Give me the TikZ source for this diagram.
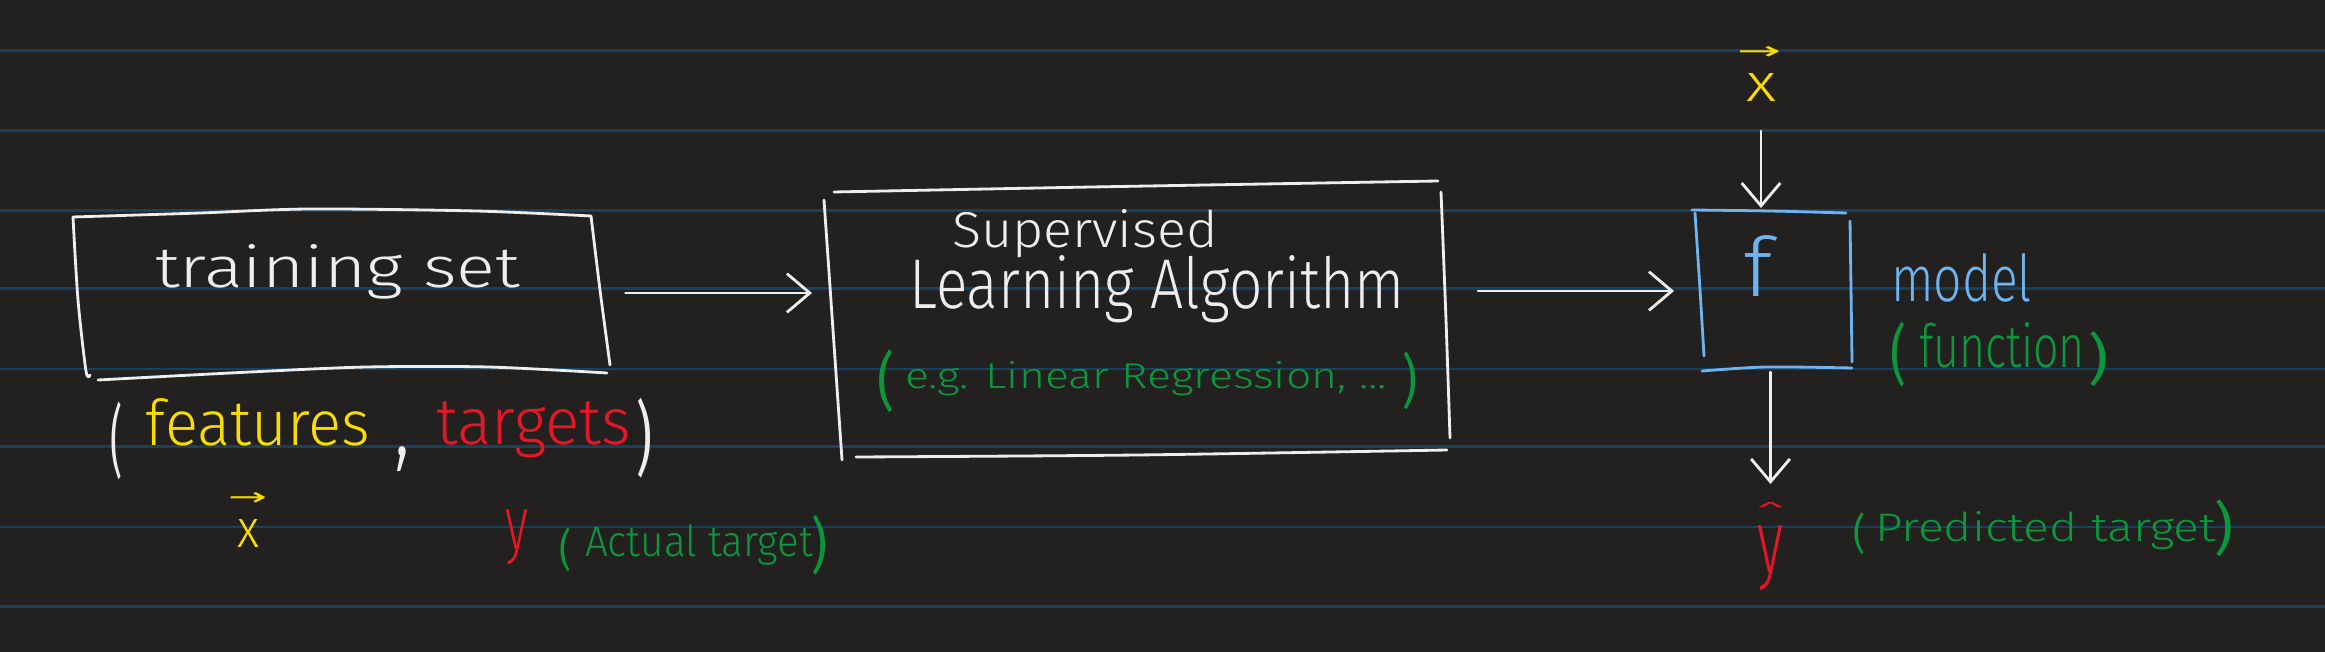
\documentclass[tikz,border=0pt]{standalone}
\usepackage{fontspec}
\setmainfont{Fira Sans Light}
\newfontfamily\regf{Fira Sans}
\newfontfamily\symf{DejaVu Sans}
\usepackage{graphicx}
\usetikzlibrary{arrows.meta}
\definecolor{bg}{RGB}{34,33,32}
\definecolor{rulec}{RGB}{22,66,96}
\definecolor{hwhite}{RGB}{238,238,238}
\definecolor{hyellow}{RGB}{250,220,0}
\definecolor{hred}{RGB}{228,22,40}
\definecolor{hgreen}{RGB}{12,150,62}
\definecolor{hblue}{RGB}{110,180,240}
\newdimen\pxu \pxu=0.01cm
\newcommand\wb[3]{\resizebox{#1\pxu}{#2\pxu}{#3}}
\newcommand\bb[3]{\resizebox*{#1\pxu}{#2\pxu}{#3}}
\newcommand\pp[3]{\resizebox*{#1\pxu}{#2\pxu}{\regf #3}}
\tikzset{
  hw/.style={inner sep=0pt, outer sep=0pt, anchor=base west},
  hb/.style={inner sep=0pt, outer sep=0pt, anchor=north west},
  pen/.style={line width=0.8pt, line cap=round, line join=round},
  rulel/.style={rulec, line width=0.7pt},
  arr/.style={pen, hwhite, -{Straight Barb[length=6.5pt,width=11pt,line width=0.8pt]}},
  boxn/.style={inner sep=0pt, outer sep=0pt, draw=none},
}
\begin{document}
\begin{tikzpicture}[x=0.01cm, y=-0.01cm]
\useasboundingbox (0,0) rectangle (2325,652);
\fill[bg] (0,0) rectangle (2325,652);
\foreach \yy in {50.6,130.4,210.7,288.5,368.8,446.6,526.9,606.7}
  \draw[rulel] (0,\yy) -- (2325,\yy);

% invisible box nodes
\node[boxn, minimum width=537\pxu, minimum height=160\pxu] (train) at (341,293) {};
\node[boxn, minimum width=620\pxu, minimum height=270\pxu] (sla) at (1137,320) {};
\node[boxn, minimum width=156\pxu, minimum height=158\pxu] (fbox) at (1773,291) {};

% training set box strokes
\draw[pen, hwhite] plot[smooth] coordinates {(73,217) (200,213) (310,209) (476,211) (591,216)};
\draw[pen, hwhite] plot[smooth] coordinates {(73,217) (78,300) (86,371) (90,375)};
\draw[pen, hwhite] plot[smooth] coordinates {(591,216) (600,290) (610,365)};
\draw[pen, hwhite] plot[smooth] coordinates {(98,380) (250,372) (367,367) (488,367) (607,373)};

% SLA box strokes
\draw[pen, hwhite] plot[smooth] coordinates {(834,192) (1092,187) (1438,181)};
\draw[pen, hwhite] plot[smooth] coordinates {(1441,192) (1446,320) (1450,438)};
\draw[pen, hwhite] plot[smooth] coordinates {(824,200) (833,330) (842,460)};
\draw[pen, hwhite] plot[smooth] coordinates {(856,457) (1137,455) (1447,450)};

% f box strokes
\draw[pen, hblue] plot[smooth] coordinates {(1692,210) (1770,211) (1846,213)};
\draw[pen, hblue] plot[smooth] coordinates {(1695,213) (1700,290) (1704,356)};
\draw[pen, hblue] plot[smooth] coordinates {(1850,221) (1851,290) (1852,362)};
\draw[pen, hblue] plot[smooth] coordinates {(1702,371) (1766,367) (1852,368)};

% texts
\node[hw, hwhite] (ts) at (155,288) {\wb{365}{43}{training set}};
\node[hb, hwhite] (lp1) at (110,402) {\pp{12}{78}{(}};
\node[hw, hyellow] (feat) at (146,445) {\wb{224}{47}{features}};
\node[hb, hwhite] (comma) at (394,447) {\bb{16}{25}{,}};
\node[hw, hred] (targ) at (436,445) {\wb{195}{43}{targets}};
\node[hb, hwhite] (rp1) at (636,398) {\pp{16}{80}{)}};
\node[hb, hyellow] (xarr1) at (228,492) {\bb{39}{13}{\symf →}};
\node[hb, hyellow] (x1) at (237,519) {\bb{22}{28}{x}};
\node[hb, hred] (y1) at (505,510) {\bb{23}{55}{y}};
\node[hb, hgreen] (lp2) at (559,528) {\pp{12}{44}{(}};
\node[hw, hgreen] (act) at (585,556) {\wb{228}{32}{Actual target}};
\node[hb, hgreen] (rp2) at (811,515) {\pp{16}{60}{)}};
\node[hw, hwhite] (sup) at (952,248) {\wb{266}{38}{Supervised}};
\node[hw, hwhite] (lal) at (909.5,308) {\wb{495}{53}{Learning Algorithm}};
\node[hb, hgreen] (lp3) at (877,350) {\pp{17}{63}{(}};
\node[hw, hgreen] (eg) at (905,388) {\wb{482}{27}{e.g. Linear Regression, ...}};
\node[hb, hgreen] (rp3) at (1402,352) {\pp{15}{58}{)}};
\node[hb, hblue] (fl) at (1743,235) {\bb{29}{61}{f}};
\node[hw, hblue] (model) at (1891,302) {\wb{141}{48}{model}};
\node[hb, hgreen] (lp4) at (1890,322) {\pp{16}{65}{(}};
\node[hw, hgreen] (func) at (1919,368) {\wb{166}{45}{function}};
\node[hb, hgreen] (rp4) at (2088,332) {\pp{20}{55}{)}};
\node[hb, hyellow] (xarr2) at (1737,47) {\bb{44}{13}{\symf →}};
\node[hb, hyellow] (xin) at (1746,74) {\bb{30}{28}{x}};
\node[hb, hred] (hat) at (1756,502) {\pp{29}{14}{\textasciicircum}};
\node[hb, hred] (yhat) at (1757,526) {\bb{26}{65}{y}};
\node[hb, hgreen] (lp5) at (1853,513) {\pp{12}{42}{(}};
\node[hw, hgreen] (pred) at (1875,541) {\wb{341}{30}{Predicted target}};
\node[hb, hgreen] (rp5) at (2214,500) {\pp{19}{57}{)}};

% connectors
\draw[arr, shorten <=16\pxu, shorten >=15\pxu] (train.east) -- (train.east -| sla.west);
\draw[arr, shorten <=31\pxu, shorten >=21\pxu] (fbox.west -| sla.east) -- (fbox.west);
\draw[arr, shorten <=29\pxu, shorten >=4\pxu] (xin.south) -- (xin.south |- fbox.north);
\draw[arr, shorten <=2\pxu, shorten >=18\pxu] (fbox.south -| hat.north) -- (hat.north);
\end{tikzpicture}
\end{document}
